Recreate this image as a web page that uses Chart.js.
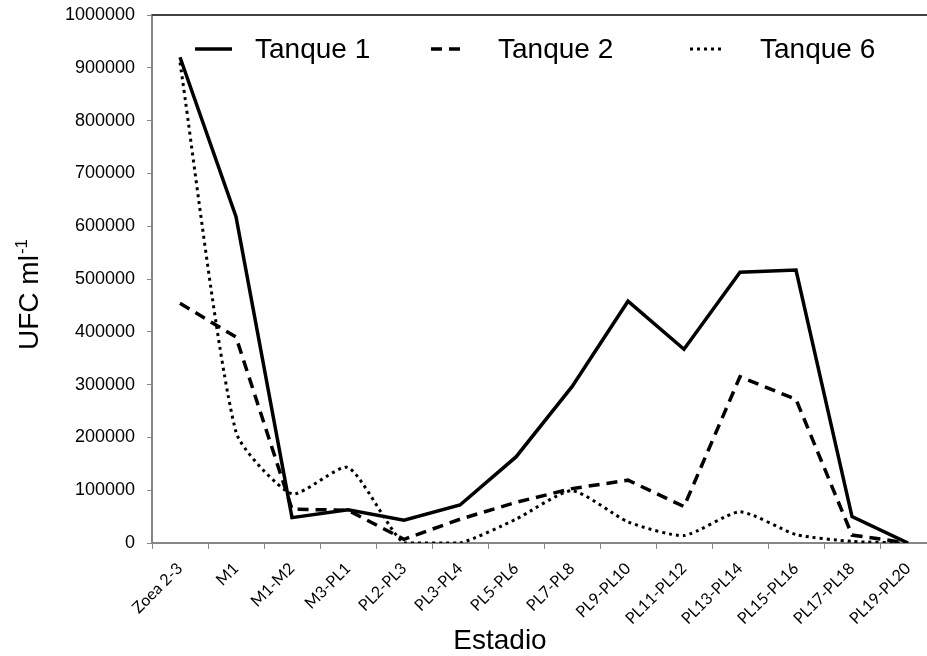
<!DOCTYPE html>
<html>
<head>
<meta charset="utf-8">
<script src="https://cdn.jsdelivr.net/npm/chart.js@4.4.0/dist/chart.umd.min.js"></script>
<style>
html,body{margin:0;padding:0;overflow:hidden;background:#fff;width:927px;height:656px}
#wrap{position:relative;width:927px;height:656px;overflow:hidden;background:#fff}
canvas{display:block}
</style>
</head>
<body>
<div id="wrap"><canvas id="c" width="940" height="656"></canvas></div>
<script>
const categories = ['Zoea 2-3','M1','M1-M2','M3-PL1','PL2-PL3','PL3-PL4','PL5-PL6','PL7-PL8','PL9-PL10','PL11-PL12','PL13-PL14','PL15-PL16','PL17-PL18','PL19-PL20'];
const tanque1 = [920000, 618000, 48000, 63000, 43000, 72000, 163000, 296000, 458000, 367000, 513000, 517000, 50000, 0];
const tanque2 = [454000, 390000, 64000, 62000, 7000, 45000, 77000, 103000, 119000, 69000, 315000, 272000, 15000, 0];
const tanque6 = [910000, 210000, 93000, 143000, 0, 0, 45000, 99000, 40000, 14000, 59000, 16000, 3000, 0];
const seriesNames = ['Tanque 1','Tanque 2','Tanque 6'];
const yTickLabels = ['0','100000','200000','300000','400000','500000','600000','700000','800000','900000','1000000'];
const xTitle = 'Estadio';
const yTitle = 'UFC ml';
const yTitleSup = '-1';

const ARIAL = "'Liberation Sans', Arial, sans-serif";

const decor = {
  id: 'decor',
  beforeDatasetsDraw(chart) {
    const {ctx, chartArea: a} = chart;
    ctx.save();
    ctx.strokeStyle = '#404040';
    ctx.lineWidth = 2;
    ctx.beginPath();
    ctx.moveTo(a.left, a.top);
    ctx.lineTo(a.right, a.top);
    ctx.stroke();
    ctx.restore();
  },
  afterDraw(chart) {
    const ctx = chart.ctx;
    ctx.save();
    ctx.fillStyle = '#000';
    ctx.font = '28px ' + ARIAL;
    ctx.textAlign = 'center';
    ctx.textBaseline = 'alphabetic';
    ctx.fillText(xTitle, 500, 649);
    ctx.save();
    ctx.translate(38, 295);
    ctx.rotate(-Math.PI / 2);
    ctx.font = '28px ' + ARIAL;
    const w1 = ctx.measureText(yTitle).width;
    ctx.font = '17px ' + ARIAL;
    const w2 = ctx.measureText(yTitleSup).width;
    const start = -(w1 + w2) / 2;
    ctx.textAlign = 'left';
    ctx.font = '28px ' + ARIAL;
    ctx.fillText(yTitle, start, 0);
    ctx.font = '17px ' + ARIAL;
    ctx.fillText(yTitleSup, start + w1 + 1, -11);
    ctx.restore();
    const sampleX = [195, 431, 690];
    const sampleW = [37, 29, 31];
    const textX = [255, 498, 760];
    const ly = 49;
    chart.data.datasets.forEach((ds, i) => {
      ctx.save();
      ctx.strokeStyle = ds.borderColor;
      ctx.lineWidth = ds.borderWidth;
      ctx.lineCap = 'butt';
      ctx.setLineDash(ds.borderDash || []);
      ctx.beginPath();
      ctx.moveTo(sampleX[i], ly);
      ctx.lineTo(sampleX[i] + sampleW[i], ly);
      ctx.stroke();
      ctx.restore();
      ctx.font = '28px ' + ARIAL;
      ctx.textAlign = 'left';
      ctx.textBaseline = 'alphabetic';
      ctx.fillStyle = '#000';
      ctx.fillText(ds.label, textX[i], 58);
    });
    ctx.restore();
  }
};

new Chart(document.getElementById('c'), {
  type: 'line',
  data: {
    labels: categories,
    datasets: [
      {label: seriesNames[0], data: tanque1, borderColor: '#000', borderWidth: 3.5, pointRadius: 0, tension: 0, fill: false},
      {label: seriesNames[1], data: tanque2, borderColor: '#000', borderWidth: 3.5, borderDash: [11, 7], pointRadius: 0, tension: 0, fill: false},
      {label: seriesNames[2], data: tanque6, borderColor: '#000', borderWidth: 3, borderDash: [3, 4], pointRadius: 0, tension: 0.2, fill: false}
    ]
  },
  options: {
    responsive: false,
    animation: false,
    devicePixelRatio: 1,
    layout: {padding: {left: 0, top: 15, right: 4, bottom: 0}},
    plugins: {legend: {display: false}, tooltip: {enabled: false}},
    scales: {
      x: {
        type: 'category',
        offset: true,
        grid: {display: true, offset: true, drawOnChartArea: false, drawTicks: true, tickLength: 6, color: '#868686', lineWidth: 1},
        border: {display: true, color: '#868686', width: 2},
        ticks: {autoSkip: false, maxRotation: 45, minRotation: 45, padding: 10, color: '#000', font: {family: 'Lato', size: 16}},
        afterFit(s) { s.height = 113; s.paddingLeft = 0; s.paddingRight = 0; }
      },
      y: {
        min: 0,
        max: 1000000,
        ticks: {stepSize: 100000, padding: 12, color: '#000', font: {family: ARIAL, size: 18}, callback: (v, i) => yTickLabels[i]},
        grid: {drawOnChartArea: false, drawTicks: true, tickLength: 5, color: '#868686', lineWidth: 1},
        border: {display: true, color: '#868686', width: 2},
        afterFit(s) { s.width = 152; s.paddingTop = 0; s.paddingBottom = 0; }
      }
    }
  },
  plugins: [decor]
});
</script>
</body>
</html>
